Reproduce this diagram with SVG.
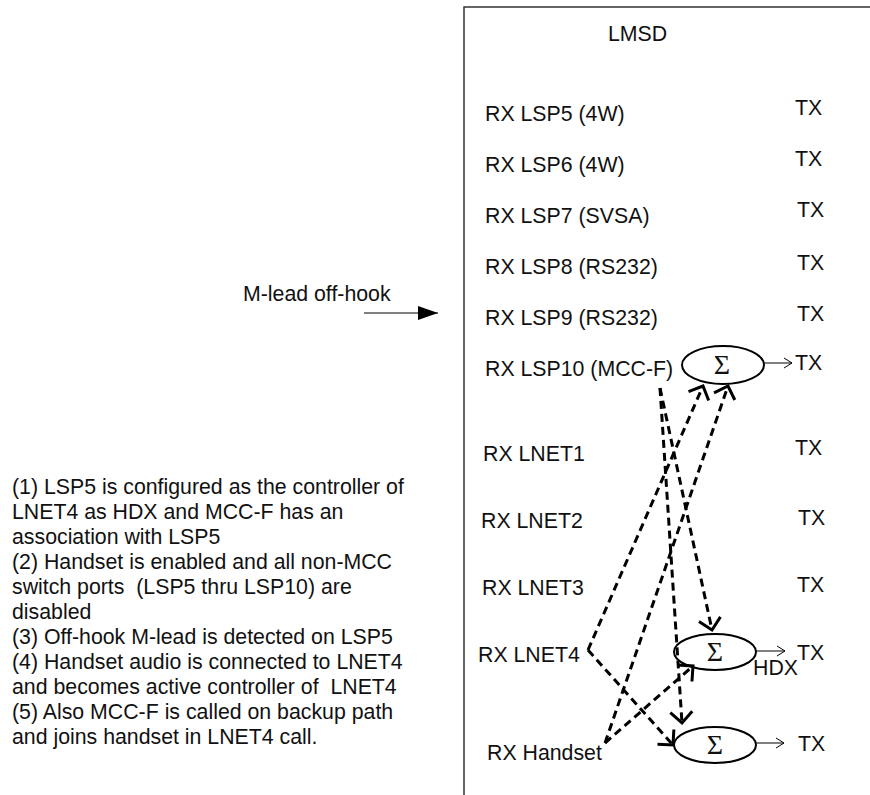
<svg xmlns="http://www.w3.org/2000/svg" width="870" height="795" viewBox="0 0 870 795">
<style>
text{font-family:"Liberation Sans",Arial,sans-serif;font-size:21.3px;fill:#111;white-space:pre}
.sig{font-family:"Liberation Serif","Times New Roman",serif;font-size:28px;text-anchor:middle}
.dash{fill:none;stroke:#000;stroke-width:3;stroke-dasharray:8 5}
.thin{fill:none;stroke:#000;stroke-width:1}
.ell{fill:none;stroke:#000;stroke-width:2}
</style>
<defs>
<marker id="chev" markerUnits="userSpaceOnUse" markerWidth="30" markerHeight="30" refX="0" refY="0" viewBox="-15 -15 30 30" orient="auto" overflow="visible">
<path d="M-11,-11 L0,0 L-11,11" fill="none" stroke="#000" stroke-width="3"/>
</marker>
<marker id="open" markerUnits="userSpaceOnUse" markerWidth="20" markerHeight="20" refX="0" refY="0" viewBox="-10 -10 20 20" orient="auto" overflow="visible">
<path d="M-8,-5 L0,0 L-8,5" fill="none" stroke="#000" stroke-width="1"/>
</marker>
<marker id="solid" markerUnits="userSpaceOnUse" markerWidth="24" markerHeight="24" refX="0" refY="0" viewBox="-22 -12 24 24" orient="auto" overflow="visible">
<path d="M-20,-7 L0,0 L-20,7 Z" fill="#000"/>
</marker>
</defs>

<g id="lmsd">
<path d="M870,7 L464,7 L464,795" fill="none" stroke="#333" stroke-width="1.5"/>
<text x="608" y="41">LMSD</text>
</g>

<g id="rx-labels">
<text x="485" y="121">RX LSP5 (4W)</text>
<text x="485" y="172">RX LSP6 (4W)</text>
<text x="485" y="223">RX LSP7 (SVSA)</text>
<text x="485" y="274">RX LSP8 (RS232)</text>
<text x="485" y="325">RX LSP9 (RS232)</text>
<text x="485" y="376">RX LSP10 (MCC-F)</text>
<text x="483" y="461">RX LNET1</text>
<text x="481" y="528">RX LNET2</text>
<text x="482" y="595">RX LNET3</text>
<text x="478" y="662">RX LNET4</text>
<text x="487" y="760">RX Handset</text>
</g>

<g id="tx-labels">
<text x="795" y="115">TX</text>
<text x="795" y="166">TX</text>
<text x="797" y="217">TX</text>
<text x="797" y="270">TX</text>
<text x="797" y="321">TX</text>
<text x="795" y="370">TX</text>
<text x="795" y="455">TX</text>
<text x="798" y="525">TX</text>
<text x="797" y="592">TX</text>
<text x="797" y="660">TX</text>
<text x="753" y="675">HDX</text>
<text x="798" y="751">TX</text>
</g>

<g id="mlead">
<text x="243" y="301">M-lead off-hook</text>
</g>

<g id="notes">
<text x="12" y="494">(1) LSP5 is configured as the controller of</text>
<text x="12" y="519">LNET4 as HDX and MCC-F has an</text>
<text x="12" y="544">association with LSP5</text>
<text x="12" y="569">(2) Handset is enabled and all non-MCC</text>
<text x="12" y="594">switch ports  (LSP5 thru LSP10) are</text>
<text x="12" y="619">disabled</text>
<text x="12" y="644">(3) Off-hook M-lead is detected on LSP5</text>
<text x="12" y="669">(4) Handset audio is connected to LNET4</text>
<text x="12" y="694">and becomes active controller of  LNET4</text>
<text x="12" y="719">(5) Also MCC-F is called on backup path</text>
<text x="12" y="744">and joins handset in LNET4 call.</text>
</g>

<g id="sum1">
<ellipse class="ell" cx="723" cy="365" rx="41" ry="19"/>
<text class="sig" x="722" y="374">Σ</text>
</g>
<g id="sum2">
<ellipse class="ell" cx="715" cy="652" rx="41" ry="18"/>
<text class="sig" x="715" y="661">Σ</text>
</g>
<g id="sum3">
<ellipse class="ell" cx="715" cy="745" rx="41" ry="18"/>
<text class="sig" x="715" y="754">Σ</text>
</g>

<g id="connectors">
<line class="thin" x1="364" y1="313" x2="438" y2="313" marker-end="url(#solid)"/>
<line class="thin" x1="764" y1="363" x2="792" y2="363" marker-end="url(#open)"/>
<line class="thin" x1="756" y1="651" x2="785" y2="651" marker-end="url(#open)"/>
<line class="thin" x1="756" y1="743" x2="784" y2="743" marker-end="url(#open)"/>
<line class="dash" x1="660" y1="388" x2="712" y2="630" marker-end="url(#chev)"/>
<line class="dash" x1="660" y1="388" x2="682" y2="723" marker-end="url(#chev)"/>
<line class="dash" x1="588" y1="650" x2="703" y2="386" marker-end="url(#chev)"/>
<line class="dash" x1="605" y1="743" x2="728" y2="386" marker-end="url(#chev)"/>
<line class="dash" x1="588" y1="650" x2="673" y2="745" marker-end="url(#chev)"/>
<line class="dash" x1="605" y1="743" x2="693" y2="666" marker-end="url(#chev)"/>
</g>
</svg>
